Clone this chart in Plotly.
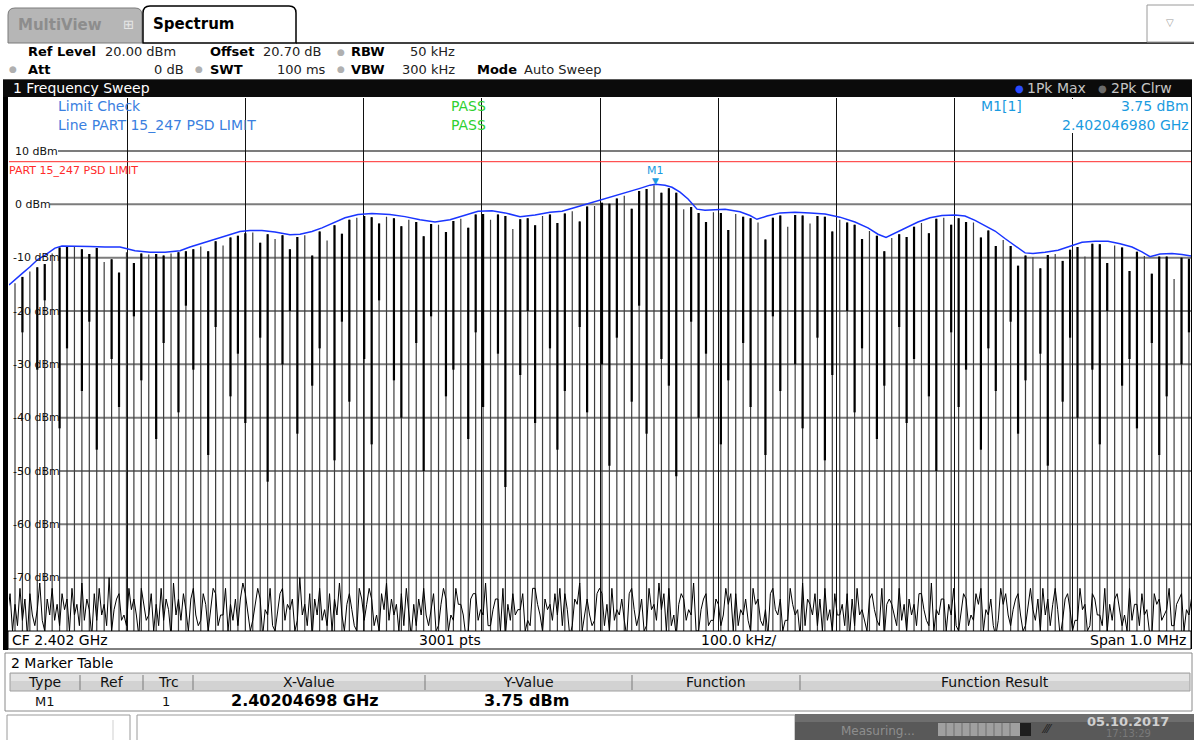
import plotly.graph_objects as go

W, H = 1194, 740
FONT = "DejaVu Sans"

# ---- sweep settings -------------------------------------------------------
center_mhz = 2402.0
span_mhz = 1.0
ref_level_dbm = 20.0
bottom_dbm = -80.0
limit_dbm = 8.0
level_ticks = [10, 0, -10, -20, -30, -40, -50, -60, -70]

# ---- marker M1 --------------------------------------------------------------
m1_freq_mhz = 2402.04698
m1_level_dbm = 3.75

# ---- clear-write trace: comb of bursts (peak level of each line) -----------
spike_start_khz = 5.08
spike_step_khz = 6.286
spike_peak_dbm = [
    -14.8, -13.6, -12.6, -11.8, -11.2, -9.2, -8.1, -8.0, -8.0, -8.4,
    -9.3, -8.2, -10.8, -10.3, -12.8, -9.0, -11.0, -9.2, -9.4, -9.3,
    -9.6, -9.2, -9.0, -8.8, -8.4, -7.9, -8.8, -6.9, -7.7, -6.2,
    -5.9, -5.4, -5.3, -7.2, -5.6, -6.5, -5.8, -8.4, -6.1, -5.8,
    -9.6, -5.1, -6.8, -3.9, -5.5, -2.9, -2.5, -2.2, -2.4, -3.6,
    -2.3, -2.6, -4.1, -2.9, -3.3, -6.0, -3.7, -3.8, -5.2, -3.1,
    -2.7, -4.4, -1.9, -1.8, -2.9, -1.9, -2.2, -4.6, -2.8, -2.6,
    -3.9, -2.2, -1.9, -3.5, -1.7, -1.3, -3.2, -0.4, -0.3, 0.3,
    0.1, 1.1, 1.6, -0.8, 2.5, 2.9, 3.6, 2.2, 3.0, 2.2,
    -0.9, -0.5, -1.6, -3.3, -1.5, -1.6, -4.8, -1.8, -2.3, -2.6,
    -3.4, -6.6, -2.5, -2.1, -4.2, -2.0, -2.1, -3.6, -2.2, -2.3,
    -5.1, -2.9, -3.4, -3.8, -6.5, -5.0, -5.9, -8.8, -6.3, -5.6,
    -6.1, -4.2, -3.5, -5.4, -2.7, -2.5, -3.8, -2.6, -3.3, -3.4,
    -6.2, -4.9, -7.8, -6.7, -7.8, -11.5, -9.6, -9.9, -12.0, -9.5,
    -9.3, -10.6, -8.5, -8.0, -9.8, -7.4, -7.5, -11.0, -7.7, -8.1,
    -12.5, -8.9, -9.7, -13.0, -9.8, -9.8, -14.0, -10.0, -10.2,
]
# lower end of the dense (thick) part of each burst line; None = thin only
spike_core_low_dbm = [
    None, -24, None, -31, -18, None, -42, -27, None, -35, -22, -46, None, -29, -38, None, -21, -33, None, -44,
    -26, None, -39, -19, -31, None, -47, -23, None, -36, -28, -41, None, -25, -52, None, -30, -20, -43, None,
    -34, -27, None, -48, -22, -37, None, -29, -45, -18, None, -33, -40, None, -26, -50, -21, None, -36, -31,
    None, -44, -24, -38, None, -28, -53, None, -32, -20, -41, None, -27, -46, -35, None, -23, -39, None, -30,
    -49, -25, None, -37, -19, -43, None, -29, -34, -51, None, -22, -40, -28, None, -45, -33, None, -26, -38,
    None, -47, -21, -35, None, -30, -42, None, -25, -48, -32, None, -20, -39, -27, None, -44, -34, None, -23,
    -41, -29, None, -36, -50, None, -24, -38, -31, None, -46, -27, -35, None, -22, -43, -33, None, -28, -49,
    None, -37, -25, -40, None, -31, -45, -20, None, -34, -29, -42, None, -26, -47, -36, None, -30, -24,
]
# noise floor between the bursts (three readings per burst period)
noise_dbm = [
    -77, -73, -80, -75, -79, -72, -78, -74, -81, -73, -77, -79, -76, -71, -78, -80, -74, -77, -72, -78, -75, -79, -73, -76,
    -74, -80, -72, -77, -75, -79, -71, -78, -74, -76, -81, -73, -78, -72, -77, -75, -79, -70, -80, -76, -74, -73, -78, -77,
    -79, -72, -76, -74, -77, -81, -72, -75, -78, -77, -73, -80, -75, -79, -72, -78, -74, -76, -81, -71, -77, -74, -78, -73,
    -76, -80, -74, -72, -77, -79, -78, -73, -75, -80, -76, -72, -73, -79, -77, -77, -72, -80, -75, -78, -74, -79, -74, -71,
    -73, -77, -80, -78, -75, -72, -74, -81, -76, -77, -72, -79, -80, -76, -73, -72, -78, -75, -76, -74, -80, -78, -70, -77,
    -75, -79, -73, -81, -74, -77, -72, -78, -76, -79, -73, -80, -74, -77, -71, -77, -80, -75, -73, -76, -79, -80, -72, -74,
    -78, -75, -72, -74, -79, -77, -80, -73, -76, -71, -78, -74, -77, -75, -80, -73, -79, -72, -76, -81, -75, -79, -74, -77,
    -72, -77, -79, -76, -73, -80, -79, -75, -72, -74, -80, -77, -78, -72, -75, -75, -77, -81, -80, -74, -73, -73, -78, -76,
    -77, -71, -79, -79, -76, -74, -74, -80, -72, -81, -75, -78, -73, -77, -76, -76, -73, -80, -78, -79, -72, -72, -75, -77,
    -80, -74, -76, -75, -78, -73, -77, -72, -79, -73, -76, -81, -79, -74, -75, -71, -80, -77, -74, -77, -79, -78, -73, -72,
    -73, -79, -75, -80, -72, -78, -76, -77, -74, -78, -81, -73, -72, -76, -79, -77, -74, -80, -79, -72, -76, -75, -78, -71,
    -76, -73, -80, -72, -79, -77, -81, -75, -73, -74, -78, -76, -77, -71, -80, -80, -76, -74, -73, -79, -78, -78, -74, -75,
    -79, -77, -72, -75, -73, -80, -73, -79, -76, -77, -74, -78, -80, -72, -75, -74, -78, -79, -76, -81, -73, -72, -76, -77,
    -74, -80, -78, -78, -72, -75, -77, -76, -81, -71, -79, -74, -75, -77, -73, -79, -74, -80, -72, -78, -76, -80, -73, -77,
    -77, -75, -79, -73, -81, -74, -79, -72, -77, -76, -78, -80, -74, -73, -76, -78, -79, -72, -81, -75, -74, -75, -77, -79,
    -72, -78, -75, -80, -74, -77, -75, -79, -73, -73, -76, -78, -79, -71, -80, -76, -77, -74, -74, -80, -75, -77, -72, -79,
    -80, -76, -73, -74, -79, -77, -78, -73, -75, -72, -80, -76, -77, -74, -79, -81, -78, -72, -75, -73, -77, -79, -76, -74,
    -73, -77, -80, -79, -75, -72, -76, -78, -74, -80, -72, -77, -74, -79, -75, -72, -76, -81, -78, -74, -73, -76, -80, -78,
    -78, -72, -76, -75, -80, -79, -73, -74, -77, -77, -79, -72, -80, -75, -78, -74, -73, -76, -79, -77, -80, -72, -78, -75,
    -75, -79, -73, -77, -76, -80, -81, -73, -75, -74, -78, -77, -76, -72, -79, -79, -75, -74, -73, -80, -76, -77, -74, -78,
]

# ---- max-hold trace (offset from sweep start in kHz, level in dBm) ---------
env_khz = [
    0, 5.1, 11.0, 17.8, 24.5, 30.5, 38.9, 44.8, 55.8, 68.5, 81.2, 93.9, 106.6, 119.3, 132.0,
    144.7, 153.1, 161.6, 170.0, 178.5, 187.0, 195.4, 203.9, 214.0, 225.0, 237.7, 246.2, 256.3,
    264.8, 273.3, 284.3, 295.3, 307.1, 322.3, 335.0, 347.7, 360.4, 373.1, 385.8, 396.8, 408.6,
    419.6, 432.3, 445.0, 457.7, 467.9, 478.8, 491.5, 500.0, 508.5, 516.9, 525.4, 533.8, 542.3,
    547.0, 555.0, 560.9, 567.7, 574.5, 582.1, 588.8, 597.3, 605.8, 618.4, 626.9, 632.8, 641.3,
    652.3, 665.0, 677.7, 690.4, 703.0, 715.7, 726.7, 735.2, 742.0, 749.6, 758.0, 769.0, 779.2,
    789.3, 800.3, 808.8, 817.3, 825.7, 834.2, 842.6, 851.1, 859.6, 866.3, 876.5, 887.5, 897.6,
    907.8, 918.8, 929.8, 940.0, 950.1, 958.5, 965.3, 973.8, 983.9, 992.4, 1000.0,
]
env_dbm = [
    -15.1, -14.2, -13.0, -11.7, -10.3, -9.5, -8.2, -7.8, -7.8, -7.9, -8.0, -8.0, -8.7, -9.0, -9.0,
    -8.7, -8.0, -7.4, -6.8, -6.2, -5.6, -5.1, -4.9, -4.9, -5.2, -5.7, -5.6, -5.1,
    -4.4, -3.6, -2.5, -1.9, -1.7, -1.9, -2.3, -2.9, -3.3, -2.9, -2.0, -1.3, -1.2,
    -1.6, -2.3, -2.0, -1.5, -1.3, -0.6, 0.2, 0.8, 1.4, 1.9, 2.4, 3.0, 3.6,
    3.75, 3.6, 3.2, 2.3, 1.0, -0.9, -1.1, -1.0, -0.9, -1.4, -2.1, -2.8, -2.2,
    -1.6, -1.5, -1.6, -1.8, -2.4, -3.3, -4.4, -5.6, -6.2, -5.4, -4.4, -3.3, -2.5,
    -2.1, -2.0, -2.2, -3.0, -4.0, -5.0, -6.4, -7.8, -9.1, -9.2, -9.0, -8.6, -7.9,
    -7.1, -6.9, -6.9, -7.4, -8.0, -8.9, -9.8, -9.3, -9.2, -9.4, -9.7,
]

f_start = center_mhz - span_mhz / 2
f_stop = center_mhz + span_mhz / 2


def khz_to_mhz(k):
    return f_start + k / 1000.0


def X(px):
    return px / W


def Y(py):
    return 1 - py / H


shapes = []
annotations = []


def rect(x0, y0, x1, y1, fill, line=None, lw=1, layer="above"):
    shapes.append(dict(type="rect", xref="paper", yref="paper",
                       x0=X(x0), x1=X(x1), y0=Y(y1), y1=Y(y0),
                       fillcolor=fill, layer=layer,
                       line=dict(color=line if line else fill, width=lw if line else 0)))


def hline(x0, x1, y, color, lw=1):
    shapes.append(dict(type="line", xref="paper", yref="paper",
                       x0=X(x0), x1=X(x1), y0=Y(y), y1=Y(y),
                       line=dict(color=color, width=lw)))


def vline(x, y0, y1, color, lw=1):
    shapes.append(dict(type="line", xref="paper", yref="paper",
                       x0=X(x), x1=X(x), y0=Y(y0), y1=Y(y1),
                       line=dict(color=color, width=lw)))


def tab(x0, x1, top, bottom, fill, line, lw, r=7):
    rx, ry = r / W, r / H
    a, b, t, bt = X(x0), X(x1), Y(top), Y(bottom)
    path = (f"M {a},{bt} L {a},{t - ry} Q {a},{t} {a + rx},{t} "
            f"L {b - rx},{t} Q {b},{t} {b},{t - ry} L {b},{bt} Z")
    shapes.append(dict(type="path", xref="paper", yref="paper", path=path,
                       fillcolor=fill, line=dict(color=line, width=lw), layer="above"))


def txt(x, y, s, size=13, color="black", anchor="left", bold=False, bg=None):
    annotations.append(dict(xref="paper", yref="paper", x=X(x), y=Y(y),
                            text=f"<b>{s}</b>" if bold else s, showarrow=False,
                            xanchor=anchor, yanchor="middle", borderpad=0,
                            bgcolor=bg, font=dict(family=FONT, size=size, color=color)))


# ---- traces -----------------------------------------------------------------
spike_x = [khz_to_mhz(spike_start_khz + i * spike_step_khz) for i in range(len(spike_peak_dbm))]

sx, sy = [], []
for f, p in zip(spike_x, spike_peak_dbm):
    sx += [f, f, None]
    sy += [bottom_dbm - 3, p, None]

cx, cy = [], []
for f, p, lo in zip(spike_x, spike_peak_dbm, spike_core_low_dbm):
    if lo is None:
        continue
    cx += [f, f, None]
    cy += [p, lo, None]

noise_start = spike_start_khz - spike_step_khz
nx = [khz_to_mhz(noise_start + i * spike_step_khz / 3) for i in range(len(noise_dbm))]

fig = go.Figure()
fig.add_trace(go.Scatter(x=sx, y=sy, mode="lines", line=dict(color="#3c3c3c", width=1.2),
                         hoverinfo="skip", showlegend=False))
fig.add_trace(go.Scatter(x=nx, y=noise_dbm, mode="lines", line=dict(color="#000000", width=1),
                         hoverinfo="skip", showlegend=False))
fig.add_trace(go.Scatter(x=cx, y=cy, mode="lines", line=dict(color="#000000", width=2.2),
                         hoverinfo="skip", showlegend=False))
fig.add_trace(go.Scatter(x=[khz_to_mhz(k) for k in env_khz], y=env_dbm, mode="lines",
                         line=dict(color="#1a35ff", width=1.5), hoverinfo="skip", showlegend=False))

# ---- diagram grid and labels -------------------------------------------------
PX_L, PX_R = 9, 1191
PY_T, PY_B = 97.7, 631

for lv in level_ticks:
    start = 58 if lv == 10 else (50 if lv == 0 else 60)
    shapes.append(dict(type="line", xref="paper", yref="y", x0=X(start), x1=X(PX_R),
                       y0=lv, y1=lv, line=dict(color="#7c7c7c", width=2), layer="below"))
    annotations.append(dict(xref="paper", yref="y", x=X(12 if lv < 0 else 14), y=lv,
                            text=f"{lv} dBm", showarrow=False, xanchor="left", yanchor="middle",
                            borderpad=0, font=dict(family=FONT, size=11, color="#111111")))

# limit line
shapes.append(dict(type="line", xref="paper", yref="y", x0=X(PX_L), x1=X(PX_R),
                   y0=limit_dbm, y1=limit_dbm, line=dict(color="#ff2a2a", width=1)))
annotations.append(dict(xref="paper", yref="y", x=X(8), y=limit_dbm, yshift=-9,
                        text="PART 15_247 PSD LIMIT", showarrow=False, xanchor="left",
                        yanchor="middle", borderpad=0,
                        font=dict(family=FONT, size=11, color="#ff2a2a")))

# marker M1
annotations.append(dict(xref="x", yref="y", x=m1_freq_mhz, y=m1_level_dbm, text="▼",
                        showarrow=False, xanchor="center", yanchor="bottom", yshift=-3,
                        borderpad=0, font=dict(family=FONT, size=9, color="#1a9be0")))
annotations.append(dict(xref="x", yref="y", x=m1_freq_mhz, y=m1_level_dbm, text="M1",
                        showarrow=False, xanchor="center", yanchor="bottom", yshift=6,
                        borderpad=0, font=dict(family=FONT, size=11, color="#1a9be0")))

# limit check / marker readout inside the diagram
rect(972, 99, 1190, 133, "white")
txt(57, 106, "Limit Check", 14, "#3a80e0")
txt(450, 106, "PASS", 14, "#2fd02f")
txt(57, 125, "Line PART 15_247 PSD LIMIT", 14, "#3a80e0")
txt(450, 125, "PASS", 14, "#2fd02f")
txt(980, 106, "M1[1]", 14, "#1a9be0")
txt(1190, 106, f"{m1_level_dbm:.2f} dBm", 14, "#1a9be0", anchor="right")
txt(1190, 125, f"{m1_freq_mhz / 1000:.9f} GHz", 14, "#1a9be0", anchor="right")

# frame around diagram
rect(3, 79, 8, 650, "#000000")
vline(1191.5, 97, 649, "#000000", 1)

# ---- tabs and header ----------------------------------------------------------
tab(8, 142, 8, 43, "#b6b6b6", "#7a7a7a", 1)
txt(17, 25, "MultiView", 15, "#8d8d8d", bold=True)
txt(122, 24, "⊞", 13, "#e6e6e6")
tab(143, 296, 6, 43, "#ffffff", "#000000", 1.5)
txt(152, 24, "Spectrum", 15, "#000000", bold=True)
hline(296, 1194, 43, "#000000", 1.5)
rect(1147, 5, 1200, 42, "#ffffff", "#9a9a9a", 1)
txt(1170, 22, "▽", 10, "#9a9a9a", anchor="center")

# measurement settings
txt(27, 52, "Ref Level", 13, bold=True)
txt(104, 52, "20.00 dBm", 13, "#222222")
txt(209, 52, "Offset", 13, bold=True)
txt(262, 52, "20.70 dB", 13, "#222222")
txt(341, 52, "●", 9, "#b0b0b0", anchor="center")
txt(350, 52, "RBW", 13, bold=True)
txt(456, 52, "50 kHz", 13, "#222222", anchor="right")
txt(13, 69, "●", 9, "#b0b0b0", anchor="center")
txt(27, 69, "Att", 13, bold=True)
txt(185, 69, "0 dB", 13, "#222222", anchor="right")
txt(199, 69, "●", 9, "#b0b0b0", anchor="center")
txt(209, 69, "SWT", 13, bold=True)
txt(327, 69, "100 ms", 13, "#222222", anchor="right")
txt(341, 69, "●", 9, "#b0b0b0", anchor="center")
txt(350, 69, "VBW", 13, bold=True)
txt(456, 69, "300 kHz", 13, "#222222", anchor="right")
txt(476, 69, "Mode", 13, bold=True)
txt(523, 69, "Auto Sweep", 13, "#222222")

# window title bar
rect(3, 79, 1192, 97, "#0b0b0b")
hline(3, 1192, 79.5, "#5a5a5a", 1)
txt(12, 88, "1 Frequency Sweep", 14, "#ffffff")
txt(1019, 88, "●", 10, "#2a4bff", anchor="center")
txt(1026, 88, "1Pk Max", 14, "#c4c4c4")
txt(1102, 88, "●", 10, "#6a6a6a", anchor="center")
txt(1110, 88, "2Pk Clrw", 14, "#c4c4c4")

# ---- status line below the diagram --------------------------------------------
rect(8, 631, 1191, 649, "#ffffff", "#000000", 1)
txt(11, 640, f"CF {center_mhz / 1000:.3f} GHz", 14)
txt(418, 640, "3001 pts", 14)
txt(700, 640, f"{span_mhz * 1000 / 10:.1f} kHz/", 14)
txt(1187, 640, f"Span {span_mhz:.1f} MHz", 14, anchor="right")

# ---- marker table ---------------------------------------------------------------
rect(5, 653, 1192, 711, "#ffffff", "#8a8a8a", 1)
txt(10, 663, "2 Marker Table", 14)
rect(10, 673, 1190, 691, "#d2d2d2", "#a0a0a0", 1)
rect(11, 674, 1189, 681, "#e4e4e4")
for xs in [80, 143, 193, 425, 632, 800]:
    vline(xs, 675, 690, "#7a7a7a", 1)
for cx_, label in [(44, "Type"), (112, "Ref"), (168, "Trc"), (309, "X-Value"),
                   (528, "Y-Value"), (716, "Function"), (995, "Function Result")]:
    txt(cx_, 682, label, 14, "#111111", anchor="center")
txt(45, 701, "M1", 13, "#111111", anchor="center")
txt(166, 701, "1", 13, "#111111", anchor="center")
txt(305, 700, f"{m1_freq_mhz / 1000:.8f} GHz", 16, "#000000", anchor="center", bold=True)
txt(526, 700, f"{m1_level_dbm:.2f} dBm", 16, "#000000", anchor="center", bold=True)

# ---- bottom status bar ------------------------------------------------------------
rect(7, 715, 130, 745, "#ffffff", "#9a9a9a", 1)
vline(113, 720, 740, "#cfcfcf", 1)
rect(137, 715, 795, 745, "#ffffff", "#9a9a9a", 1)
rect(795, 714, 1194, 740, "#595959")
rect(795, 714, 1194, 722, "#6e6e6e")
txt(840, 731, "Measuring...", 12, "#8e8e8e")
rect(938, 723, 1020, 736, "#a0a0a0")
for xs in [946, 954, 962, 970, 978, 986, 994, 1002, 1010]:
    vline(xs, 723, 736, "#6e6e6e", 1)
rect(1020, 723, 1031, 736, "#1e1e1e")
txt(1047, 729, "⁄⁄⁄", 12, "#1e1e1e", anchor="center")
txt(1128, 721, "05.10.2017", 13, "#d0d0d0", anchor="center", bold=True)
txt(1128, 733.5, "17:13:29", 10, "#7a7a7a", anchor="center")

fig.update_layout(
    width=W, height=H,
    margin=dict(l=0, r=0, t=0, b=0),
    paper_bgcolor="white", plot_bgcolor="white",
    showlegend=False,
    shapes=shapes, annotations=annotations,
    xaxis=dict(range=[f_start, f_stop], domain=[X(PX_L), X(PX_R)],
               showgrid=True, gridcolor="#111111", gridwidth=1,
               tick0=f_start, dtick=span_mhz / 10,
               showticklabels=False, ticks="", zeroline=False, showline=False,
               fixedrange=True),
    yaxis=dict(range=[bottom_dbm, ref_level_dbm], domain=[Y(PY_B), Y(PY_T)],
               showgrid=False, showticklabels=False, ticks="", zeroline=False,
               showline=False, fixedrange=True),
)

fig.write_html("out.html")
